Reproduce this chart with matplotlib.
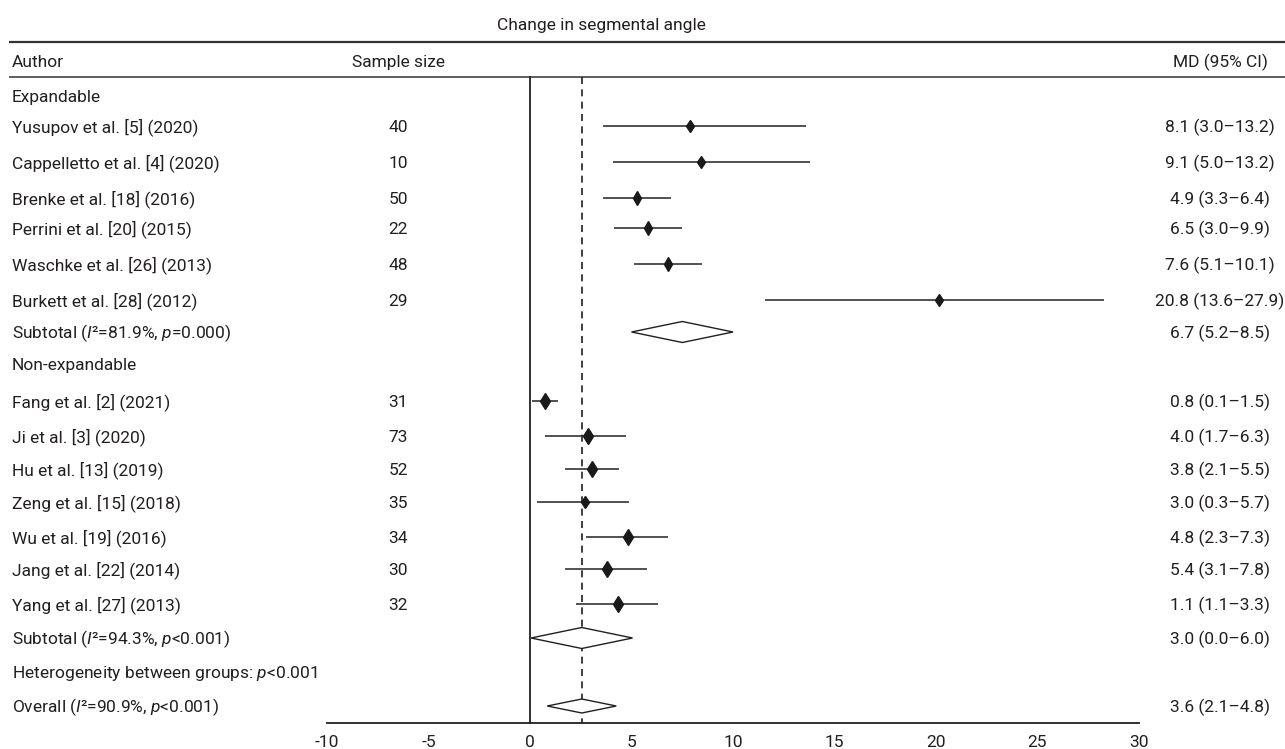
import matplotlib
matplotlib.use("Agg")
import matplotlib.pyplot as plt
from matplotlib.patches import Polygon

# ---------------- data ----------------
title = "Change in segmental angle"

exp_labels = ["Yusupov et al. [5] (2020)", "Cappelletto et al. [4] (2020)",
              "Brenke et al. [18] (2016)", "Perrini et al. [20] (2015)",
              "Waschke et al. [26] (2013)", "Burkett et al. [28] (2012)"]
exp_n = [40, 10, 50, 22, 48, 29]
exp_md_text = ["8.1 (3.0–13.2)", "9.1 (5.0–13.2)", "4.9 (3.3–6.4)",
               "6.5 (3.0–9.9)", "7.6 (5.1–10.1)", "20.8 (13.6–27.9)"]
exp_est = [7.9, 8.4, 5.25, 5.8, 6.8, 20.15]
exp_lo = [3.6, 4.1, 3.6, 4.15, 5.1, 11.6]
exp_hi = [13.6, 13.8, 6.95, 7.5, 8.45, 28.3]
exp_sub = (5.0, 7.5, 10.0)
exp_sub_text = "6.7 (5.2–8.5)"

non_labels = ["Fang et al. [2] (2021)", "Ji et al. [3] (2020)", "Hu et al. [13] (2019)",
              "Zeng et al. [15] (2018)", "Wu et al. [19] (2016)", "Jang et al. [22] (2014)",
              "Yang et al. [27] (2013)"]
non_n = [31, 73, 52, 35, 34, 30, 32]
non_md_text = ["0.8 (0.1–1.5)", "4.0 (1.7–6.3)", "3.8 (2.1–5.5)", "3.0 (0.3–5.7)",
               "4.8 (2.3–7.3)", "5.4 (3.1–7.8)", "1.1 (1.1–3.3)"]
non_est = [0.75, 2.85, 3.05, 2.7, 4.85, 3.8, 4.35]
non_lo = [0.08, 0.75, 1.7, 0.35, 2.75, 1.7, 2.25]
non_hi = [1.4, 4.75, 4.4, 4.9, 6.8, 5.75, 6.3]
non_sub = (0.05, 2.55, 5.05)
non_sub_text = "3.0 (0.0–6.0)"

overall = (0.85, 2.55, 4.25)
overall_text = "3.6 (2.1–4.8)"

xticks = [-10, -5, 0, 5, 10, 15, 20, 25, 30]

# ---------------- style / layout ----------------
plt.rcParams['font.family'] = ['Roboto', 'DejaVu Sans']
plt.rcParams['mathtext.fontset'] = 'custom'
plt.rcParams['mathtext.rm'] = 'Roboto'
plt.rcParams['mathtext.it'] = 'Roboto:italic'
TXT = '#231f20'
FS = 12.5
BASE = 6.0  # baseline offset below row centre (pixels)

W, H = 1285, 749
X0PX, PXU = 530, 20.3  # layout: pixel of zero, pixels per unit


def px(p):
    return (p - X0PX) / PXU


fig = plt.figure(figsize=(W / 100, H / 100), dpi=100)
ax = fig.add_axes([0, 0, 1, 1])
ax.set_xlim(px(0), px(W))
ax.set_ylim(H, 0)
ax.axis('off')

# row y positions (layout, pixels)
y_exp_head = 96
y_exp = [126, 162, 198, 228, 264, 300]
y_exp_sub = 332
y_non_head = 364
y_non = [401, 436, 469, 502, 537, 569, 604]
y_non_sub = 638
y_het = 672
y_over = 706
y_axis = 723

x_lab = px(12)
x_n = px(398)
x_md = px(1220)


def txt(x, y, s, ha='left'):
    ax.text(x, y + BASE, s, ha=ha, va='baseline', fontsize=FS, color=TXT)


# header
txt(px(601), 24, title, 'center')
ax.plot([px(9), px(W)], [42, 42], color='#333333', lw=1.6, solid_capstyle='butt')
ax.plot([px(9), px(W)], [77, 77], color='#333333', lw=1.1, solid_capstyle='butt')
txt(x_lab, 61, "Author")
txt(x_n, 61, "Sample size", 'center')
txt(x_md, 61, "MD (95% CI)", 'center')

# reference lines
ax.plot([0, 0], [77, y_axis], color='#231f20', lw=1.3)
ax.plot([overall[1], overall[1]], [77, y_axis], color='#231f20', lw=1.2,
        ls=(0, (4.2, 3.2)))

# axis
ax.plot([-10, 30], [y_axis, y_axis], color='#231f20', lw=1.3)
for t in xticks:
    txt(t, 741, str(t), 'center')

marker_exp = [6.5, 6.5, 6.8, 6.8, 6.8, 6.5]
marker_non = [8.0, 8.5, 8.0, 6.5, 8.5, 8.5, 8.5]


def study_rows(labels, ns, texts, est, lo, hi, ys, msz):
    for lab, n, t, e, l, h, y, m in zip(labels, ns, texts, est, lo, hi, ys, msz):
        txt(x_lab, y, lab)
        txt(x_n, y, str(n), 'center')
        txt(x_md, y, t, 'center')
        ax.plot([l, h], [y, y], color='#333333', lw=1.2, solid_capstyle='butt')
        ax.plot([e], [y], marker='d', ms=m, color='#1a1a1a', mec='#1a1a1a')


def diamond(vals, y, hpx):
    l, e, h = vals
    poly = Polygon([(l, y), (e, y - hpx / 2), (h, y), (e, y + hpx / 2)], closed=True,
                   facecolor='white', edgecolor='#231f20', lw=1.0, zorder=3)
    ax.add_patch(poly)


txt(x_lab, y_exp_head, "Expandable")
study_rows(exp_labels, exp_n, exp_md_text, exp_est, exp_lo, exp_hi, y_exp, marker_exp)
txt(x_lab, y_exp_sub, r"Subtotal ($\mathit{I}$²=81.9%, $\mathit{p}$=0.000)")
txt(x_md, y_exp_sub, exp_sub_text, 'center')
diamond(exp_sub, y_exp_sub, 21)

txt(x_lab, y_non_head, "Non-expandable")
study_rows(non_labels, non_n, non_md_text, non_est, non_lo, non_hi, y_non, marker_non)
txt(x_lab, y_non_sub, r"Subtotal ($\mathit{I}$²=94.3%, $\mathit{p}$<0.001)")
txt(x_md, y_non_sub, non_sub_text, 'center')
diamond(non_sub, y_non_sub, 21)

txt(x_lab, y_het, r"Heterogeneity between groups: $\mathit{p}$<0.001")

txt(x_lab, y_over, r"Overall ($\mathit{I}$²=90.9%, $\mathit{p}$<0.001)")
txt(x_md, y_over, overall_text, 'center')
diamond(overall, y_over, 14)

fig.savefig("out.png", dpi=100)
